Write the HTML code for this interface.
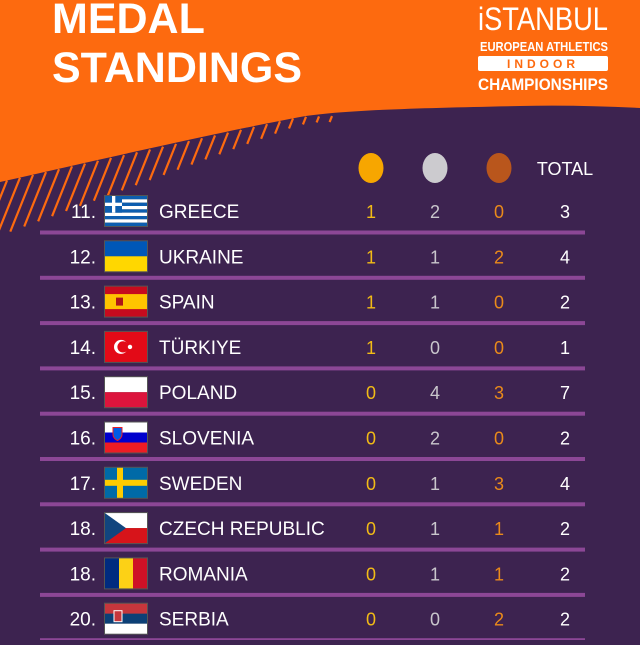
<!DOCTYPE html>
<html><head><meta charset="utf-8"><style>
html,body{margin:0;padding:0;}
body{width:640px;height:640px;overflow:hidden;background:#3d2350;font-family:"Liberation Sans",sans-serif;}
</style></head><body>
<svg width="640" height="640" viewBox="0 0 640 640" xmlns="http://www.w3.org/2000/svg">
<rect width="640" height="640" fill="#3d2350"/>
<path d="M0 0 H640 V108 C600 106 560 105 520 106 C420 108 340 110 300 117 C220 132 120 155 0 182 Z" fill="#fd6a0f"/>
<g id="stripes" stroke="#fd6a0f" stroke-width="2.2"></g>
<text x="52" y="33" font-size="43" font-weight="bold" fill="#fff">MEDAL</text>
<text x="52" y="82" font-size="43" font-weight="bold" fill="#fff">STANDINGS</text>
<g fill="#fff">
<text x="478" y="30" font-size="32" textLength="130" lengthAdjust="spacingAndGlyphs">iSTANBUL</text>
<text x="480" y="51" font-size="13" font-weight="bold" textLength="128" lengthAdjust="spacingAndGlyphs">EUROPEAN ATHLETICS</text>
<rect x="478" y="56" width="130" height="15" rx="2" fill="#fff"/>
<text x="543" y="68" font-size="12" font-weight="bold" fill="#fd6a0f" text-anchor="middle" letter-spacing="4">INDOOR</text>
<text x="478" y="90" font-size="17" font-weight="bold" textLength="130" lengthAdjust="spacingAndGlyphs">CHAMPIONSHIPS</text>
</g>
<g>
<ellipse cx="371" cy="168" rx="12.5" ry="15" fill="#f7a600"/>
<ellipse cx="435" cy="168" rx="12.5" ry="15" fill="#cccbcf"/>
<ellipse cx="499" cy="168" rx="12.5" ry="15" fill="#b9561c"/>
<text x="565" y="175" font-size="18" fill="#fff" text-anchor="middle">TOTAL</text>
</g>
<g id="rows"></g>
</svg>
<script>
const ranks=["11.","12.","13.","14.","15.","16.","17.","18.","18.","20."];
const countries=["GREECE","UKRAINE","SPAIN","TÜRKIYE","POLAND","SLOVENIA","SWEDEN","CZECH REPUBLIC","ROMANIA","SERBIA"];
const gold=[1,1,1,1,0,0,0,0,0,0];
const silver=[2,1,1,0,4,2,1,1,1,0];
const bronze=[0,2,0,0,3,0,3,1,1,2];
const total=[3,4,2,1,7,2,4,2,2,2];
const NS="http://www.w3.org/2000/svg";
function mk(tag,attrs,parent){const e=document.createElementNS(NS,tag);for(const k in attrs)e.setAttribute(k,attrs[k]);parent.appendChild(e);return e;}
// stripes
const sg=document.getElementById('stripes');
function boundary(x){return x<300?182-(x/300)*65:117-(x-300)*0.03;}
for(let x=-10;x<330;x+=13){const y0=boundary(x+4);const len=Math.max(6,62-x*0.18);
 const l=mk('line',{x1:x+4,y1:y0,x2:x+4-len*0.4,y2:y0+len},sg);
 
 }
const rg=document.getElementById('rows');
const flagFns={
GREECE:(g,x,y)=>{for(let i=0;i<9;i++)mk('rect',{x:x,y:y+i*30/9,width:42,height:30/9,fill:i%2?'#fff':'#0d5eaf'},g);mk('rect',{x:x,y:y,width:17,height:16.7,fill:'#0d5eaf'},g);mk('rect',{x:x+7,y:y,width:3.3,height:16.7,fill:'#fff'},g);mk('rect',{x:x,y:y+6.7,width:17,height:3.3,fill:'#fff'},g);},
UKRAINE:(g,x,y)=>{mk('rect',{x:x,y:y,width:42,height:15,fill:'#0057b7'},g);mk('rect',{x:x,y:y+15,width:42,height:15,fill:'#ffd700'},g);},
SPAIN:(g,x,y)=>{mk('rect',{x:x,y:y,width:42,height:30,fill:'#c60b1e'},g);mk('rect',{x:x,y:y+7.5,width:42,height:15,fill:'#ffc400'},g);mk('rect',{x:x+11,y:y+11,width:7,height:8,fill:'#ad1519'},g);},
"TÜRKIYE":(g,x,y)=>{mk('rect',{x:x,y:y,width:42,height:30,fill:'#e30a17'},g);mk('circle',{cx:x+16,cy:y+15,r:7,fill:'#fff'},g);mk('circle',{cx:x+18,cy:y+15,r:5.6,fill:'#e30a17'},g);mk('circle',{cx:x+25,cy:y+15,r:2.2,fill:'#fff'},g);},
POLAND:(g,x,y)=>{mk('rect',{x:x,y:y,width:42,height:15,fill:'#fff'},g);mk('rect',{x:x,y:y+15,width:42,height:15,fill:'#dc143c'},g);},
SLOVENIA:(g,x,y)=>{mk('rect',{x:x,y:y,width:42,height:10,fill:'#fff'},g);mk('rect',{x:x,y:y+10,width:42,height:10,fill:'#0000cd'},g);mk('rect',{x:x,y:y+20,width:42,height:10,fill:'#ed1c24'},g);mk('path',{d:`M${x+8} ${y+5}h9v7c0 4-4.5 6-4.5 6s-4.5-2-4.5-6z`,fill:'#005ce6',stroke:'#ed1c24','stroke-width':1},g);},
SWEDEN:(g,x,y)=>{mk('rect',{x:x,y:y,width:42,height:30,fill:'#006aa7'},g);mk('rect',{x:x+12,y:y,width:6,height:30,fill:'#fecc00'},g);mk('rect',{x:x,y:y+12,width:42,height:6,fill:'#fecc00'},g);},
"CZECH REPUBLIC":(g,x,y)=>{mk('rect',{x:x,y:y,width:42,height:15,fill:'#fff'},g);mk('rect',{x:x,y:y+15,width:42,height:15,fill:'#d7141a'},g);mk('path',{d:`M${x} ${y}L${x+21} ${y+15}L${x} ${y+30}Z`,fill:'#11457e'},g);},
ROMANIA:(g,x,y)=>{mk('rect',{x:x,y:y,width:14,height:30,fill:'#002b7f'},g);mk('rect',{x:x+14,y:y,width:14,height:30,fill:'#fcd116'},g);mk('rect',{x:x+28,y:y,width:14,height:30,fill:'#ce1126'},g);},
SERBIA:(g,x,y)=>{mk('rect',{x:x,y:y,width:42,height:10,fill:'#c6363c'},g);mk('rect',{x:x,y:y+10,width:42,height:10,fill:'#0c4076'},g);mk('rect',{x:x,y:y+20,width:42,height:10,fill:'#fff'},g);mk('rect',{x:x+9,y:y+7,width:8,height:11,fill:'#c6363c',stroke:'#fff','stroke-width':1},g);}
};
const rowY=i=>211+i*45.3;
const colX={g:371,s:435,b:499,t:565};
for(let i=0;i<countries.length;i++){
 const y=rowY(i);
 const g=mk('g',{},rg);
 
 
 const t1=mk('text',{x:96,y:y+7,'font-size':19,fill:'#fff','text-anchor':'end'},g);t1.textContent=ranks[i];
 
 
 const fg=mk('g',{},g);
 
 
 mk('rect',{x:104,y:y-16,width:44,height:32,fill:'#555'},fg);
 flagFns[countries[i]](fg,105,y-15);
 const t2=mk('text',{x:159,y:y+7,'font-size':19,fill:'#fff'},g);t2.textContent=countries[i];
 
 
 const vals=[[gold[i],colX.g,'#f2bb16','gold-count'],[silver[i],colX.s,'#c9c6cc','silver-count'],[bronze[i],colX.b,'#ea8a1a','bronze-count'],[total[i],colX.t,'#ffffff','total-count']];
 vals.forEach(v=>{const t=mk('text',{x:v[1],y:y+7,'font-size':18,fill:v[2],'text-anchor':'middle'},g);t.textContent=v[0];
  
  });
 const sep=mk('rect',{x:40,y:y+19.5,width:545,height:4,fill:'#8c4796'},g);
 
 
}
</script>
</body></html>
